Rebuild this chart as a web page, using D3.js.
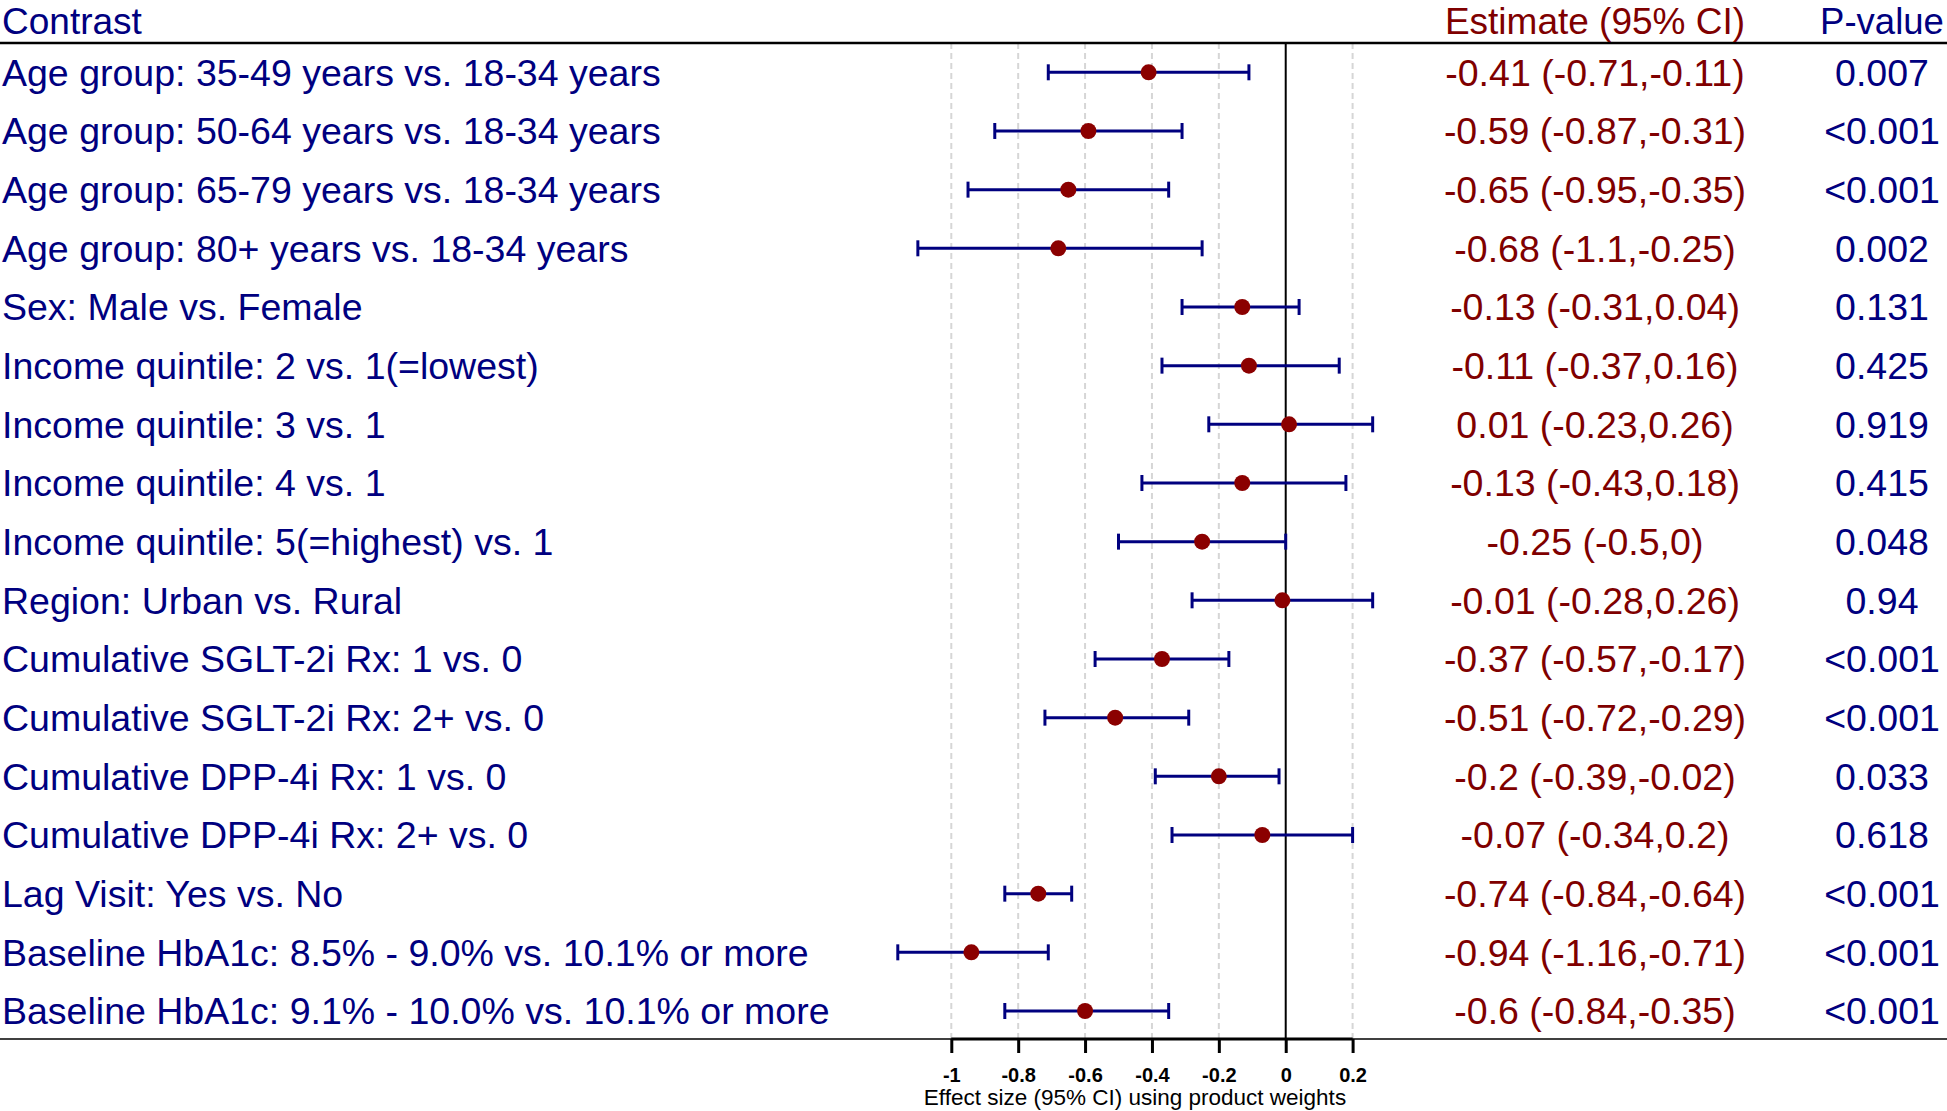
<!DOCTYPE html>
<html><head><meta charset="utf-8">
<script src="https://cdn.jsdelivr.net/npm/d3@7"></script>
<style>body{margin:0;background:#fff}svg{display:block}text{font-family:"Liberation Sans",Arial,sans-serif}</style>
</head><body><svg id="c" width="1947" height="1111"></svg>
<script>
const contrasts = [
 "Age group: 35-49 years vs. 18-34 years",
 "Age group: 50-64 years vs. 18-34 years",
 "Age group: 65-79 years vs. 18-34 years",
 "Age group: 80+ years vs. 18-34 years",
 "Sex: Male vs. Female",
 "Income quintile: 2 vs. 1(=lowest)",
 "Income quintile: 3 vs. 1",
 "Income quintile: 4 vs. 1",
 "Income quintile: 5(=highest) vs. 1",
 "Region: Urban vs. Rural",
 "Cumulative SGLT-2i Rx: 1 vs. 0",
 "Cumulative SGLT-2i Rx: 2+ vs. 0",
 "Cumulative DPP-4i Rx: 1 vs. 0",
 "Cumulative DPP-4i Rx: 2+ vs. 0",
 "Lag Visit: Yes vs. No",
 "Baseline HbA1c: 8.5% - 9.0% vs. 10.1% or more",
 "Baseline HbA1c: 9.1% - 10.0% vs. 10.1% or more"
];
const estimates = [-0.41,-0.59,-0.65,-0.68,-0.13,-0.11,0.01,-0.13,-0.25,-0.01,-0.37,-0.51,-0.2,-0.07,-0.74,-0.94,-0.6];
const lower = [-0.71,-0.87,-0.95,-1.1,-0.31,-0.37,-0.23,-0.43,-0.5,-0.28,-0.57,-0.72,-0.39,-0.34,-0.84,-1.16,-0.84];
const upper = [-0.11,-0.31,-0.35,-0.25,0.04,0.16,0.26,0.18,0,0.26,-0.17,-0.29,-0.02,0.2,-0.64,-0.71,-0.35];
const pvalues = ["0.007","<0.001","<0.001","0.002","0.131","0.425","0.919","0.415","0.048","0.94","<0.001","<0.001","0.033","0.618","<0.001","<0.001","<0.001"];
const xTicks = [-1,-0.8,-0.6,-0.4,-0.2,0,0.2];

const svg = d3.select("#c");
const navy = "#00007f", maroon = "#7f0000", dot = "#8b0000";
const W = 1947, topY = 43, botY = 1039, FS = 37.5;

const x = d3.scaleLinear().domain([-1, 0.2]).range([951.3, 1352.6]);
const y = d3.scalePoint().domain(d3.range(contrasts.length)).range([72.3, 1011]);

// grid lines
svg.append("g").selectAll("line").data(xTicks.filter(t => t !== 0)).join("line")
  .attr("x1", d => x(d)).attr("x2", d => x(d)).attr("y1", topY).attr("y2", botY)
  .attr("stroke", "#d6d6d6").attr("stroke-width", 2).attr("stroke-dasharray", "6,4");

// zero line
svg.append("line").attr("x1", x(0)).attr("x2", x(0)).attr("y1", topY).attr("y2", botY)
  .attr("stroke", "#000").attr("stroke-width", 2);

// top & bottom rules
svg.append("line").attr("x1", 0).attr("x2", W).attr("y1", topY).attr("y2", topY).attr("stroke", "#000").attr("stroke-width", 2.5);
svg.append("line").attr("x1", 0).attr("x2", W).attr("y1", botY).attr("y2", botY).attr("stroke", "#000").attr("stroke-width", 1.5);

// axis
const axis = d3.axisBottom(x).tickValues(xTicks).tickSize(14).tickPadding(15)
  .tickFormat(d => String(d));
const ag = svg.append("g").attr("transform", `translate(0,${botY})`).call(axis);
ag.attr("font-size", null);
ag.select(".domain").attr("stroke-width", 3).attr("d", `M${x(-1)},0H${x(0.2)}`);
ag.selectAll(".tick line").attr("stroke-width", 3);
ag.selectAll(".tick text").style("font-size", "20px").style("font-weight", "bold").attr("fill", "#000");
svg.append("text").attr("x", 1135).attr("y", 1105).attr("text-anchor", "middle")
  .style("font-size", "22.5px").attr("fill", "#000").text("Effect size (95% CI) using product weights");

// headers
const hy = 34, HFS = 37;
svg.append("text").attr("x", 2).attr("y", hy).style("font-size", HFS + "px").attr("fill", navy).text("Contrast");
svg.append("text").attr("x", 1595).attr("y", hy).style("font-size", HFS + "px").attr("text-anchor", "middle").attr("fill", maroon).text("Estimate (95% CI)");
svg.append("text").attr("x", 1882).attr("y", hy).style("font-size", "36.5px").attr("text-anchor", "middle").attr("fill", navy).text("P-value");

const rows = svg.append("g").selectAll("g").data(d3.range(contrasts.length)).join("g");
rows.append("text").attr("x", 2).attr("y", i => y(i) + 13.3).style("font-size", FS + "px").attr("fill", navy).text(i => contrasts[i]);
rows.append("text").attr("x", 1595).attr("y", i => y(i) + 13.3).style("font-size", FS + "px").attr("text-anchor", "middle").attr("fill", maroon)
  .text(i => `${estimates[i]} (${lower[i]},${upper[i]})`);
rows.append("text").attr("x", 1882).attr("y", i => y(i) + 13.3).style("font-size", FS + "px").attr("text-anchor", "middle").attr("fill", navy).text(i => pvalues[i]);

// CI
rows.append("line").attr("x1", i => x(lower[i])).attr("x2", i => x(upper[i])).attr("y1", i => y(i)).attr("y2", i => y(i))
  .attr("stroke", navy).attr("stroke-width", 3);
rows.append("line").attr("x1", i => x(lower[i])).attr("x2", i => x(lower[i])).attr("y1", i => y(i) - 8).attr("y2", i => y(i) + 8)
  .attr("stroke", navy).attr("stroke-width", 3);
rows.append("line").attr("x1", i => x(upper[i])).attr("x2", i => x(upper[i])).attr("y1", i => y(i) - 8).attr("y2", i => y(i) + 8)
  .attr("stroke", navy).attr("stroke-width", 3);
rows.append("circle").attr("cx", i => x(estimates[i])).attr("cy", i => y(i)).attr("r", 8).attr("fill", dot);
</script></body></html>
